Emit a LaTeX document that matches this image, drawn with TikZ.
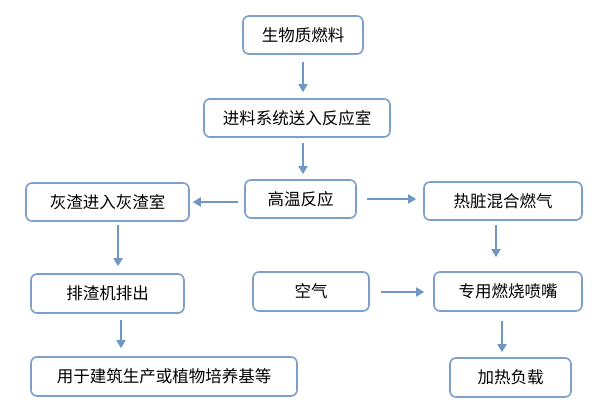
\documentclass[tikz,border=0pt]{standalone}
\usepackage{fontspec}
\setmainfont{Noto Sans CJK SC}
\usetikzlibrary{arrows.meta}
\definecolor{boxblue}{RGB}{124,159,203}
\definecolor{arrowblue}{RGB}{112,150,196}

\begin{document}
\begin{tikzpicture}[x=1pt,y=-1pt,
        stepbox/.style={draw=boxblue, line width=1.6pt, rounded corners=6pt, fill=white,
            inner sep=0pt, minimum height=38pt, font=\fontsize{16.5}{19}\selectfont},
        flow/.style={draw=arrowblue, line width=1.8pt, -{Triangle[width=9pt,length=8pt]}}]
            % process chart, laid out on the pixel grid
            \useasboundingbox (0,0) rectangle (596,412);

            \node[stepbox, minimum width=120pt] (fuel)   at (303,35)      {生物质燃料};
            \node[stepbox, minimum width=186pt] (feed)   at (297,118)     {进料系统送入反应室};
            \node[stepbox, minimum width=111pt] (hot)    at (300.5,199)   {高温反应};

            \node[stepbox, minimum width=163pt] (ash)    at (107.5,202)   {灰渣进入灰渣室};
            \node[stepbox, minimum width=153pt, minimum height=39pt] (slag)   at (107.5,293.5) {排渣机排出};
            \node[stepbox, minimum width=266pt, minimum height=39pt] (use)    at (164,376.5)   {用于建筑生产或植物培养基等};

            \node[stepbox, minimum width=158pt] (gas)    at (503,201)     {热脏混合燃气};
            \node[stepbox, minimum width=116pt, minimum height=39pt] (air)    at (311,291.5)   {空气};
            \node[stepbox, minimum width=148pt, minimum height=39pt] (nozzle) at (508,291.5)   {专用燃烧喷嘴};
            \node[stepbox, minimum width=121pt, minimum height=39pt] (load)   at (510.5,377.5) {加热负载};

            \draw[flow, shorten <=7pt, shorten >=6pt] (fuel.south) -- (fuel.south |- feed.north);
            \draw[flow, shorten <=5pt, shorten >=5pt] (fuel.south |- feed.south) -- (fuel.south |- hot.north);
            \draw[flow, shorten <=6pt, shorten >=3pt] (hot.west |- ash.east) -- (ash.east);
            \draw[flow, shorten <=10pt, shorten >=7pt] (hot.east) -- (hot.east -| gas.west);

            \draw[flow, shorten <=3pt, shorten >=7pt] ([xshift=10.5pt]ash.south) -- ([xshift=10.5pt]ash.south |- slag.north);
            \draw[flow, shorten <=6pt, shorten >=8pt] ([xshift=13.5pt]slag.south) -- ([xshift=13.5pt]slag.south |- use.north);

            \draw[flow, shorten <=4pt, shorten >=14pt] ([xshift=-7pt]gas.south) -- ([xshift=-7pt]gas.south |- nozzle.north);
            \draw[flow, shorten <=11pt, shorten >=9pt] ([yshift=-0.5pt]air.east) -- ([yshift=-0.5pt]nozzle.west);
            \draw[flow, shorten <=9pt, shorten >=5pt] ([xshift=-6pt]nozzle.south) -- ([xshift=-6pt]nozzle.south |- load.north);
        \end{tikzpicture}
\end{document}
